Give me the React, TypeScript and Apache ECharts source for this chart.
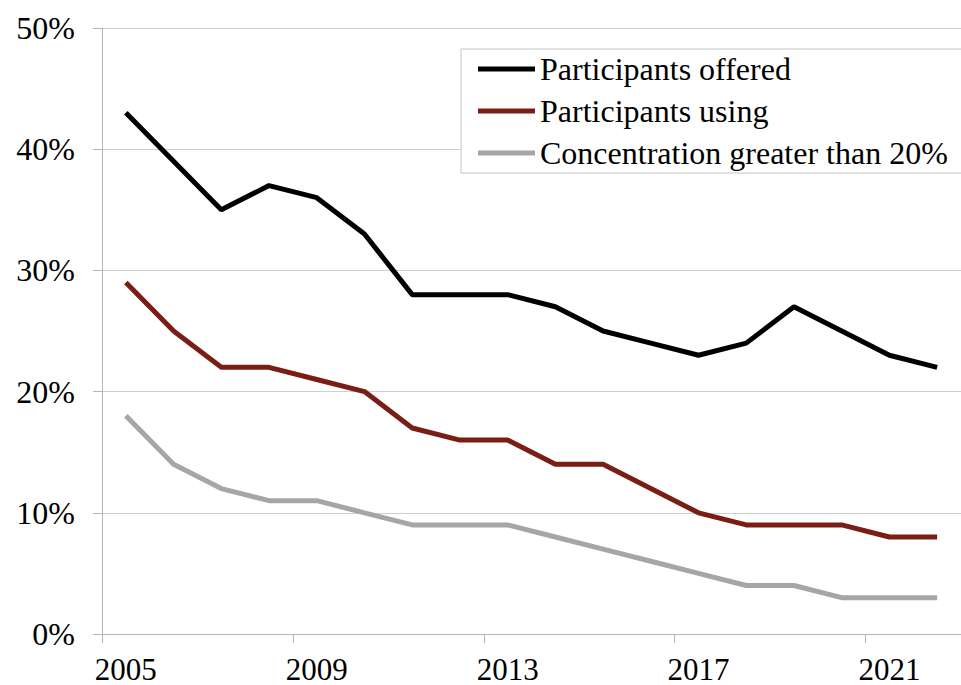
import React, { useEffect, useRef } from "react";
import * as echarts from "echarts";

const years = ["2005","2006","2007","2008","2009","2010","2011","2012","2013","2014","2015","2016","2017","2018","2019","2020","2021","2022"];
const offered = [43, 39, 35, 37, 36, 33, 28, 28, 28, 27, 25, 24, 23, 24, 27, 25, 23, 22];
const using = [29, 25, 22, 22, 21, 20, 17, 16, 16, 14, 14, 12, 10, 9, 9, 9, 8, 8];
const concentration = [18, 14, 12, 11, 11, 10, 9, 9, 9, 8, 7, 6, 5, 4, 4, 3, 3, 3];
const seriesNames = ["Participants offered", "Participants using", "Concentration greater than 20%"];
const seriesColors = ["#000000", "#7a1d14", "#a6a6a6"];

const FONT = "Liberation Serif";

export default function App() {
  const ref = useRef<HTMLDivElement>(null);
  useEffect(() => {
    if (!ref.current) return;
    const chart = echarts.init(ref.current, null, { renderer: "svg" });
    const data = [offered, using, concentration];
    chart.setOption({
      animation: false,
      backgroundColor: "#ffffff",
      textStyle: { fontFamily: FONT },
      grid: { left: 102, top: 28, width: 864, height: 606, containLabel: false },
      legend: {
        left: 461,
        top: 49,
        orient: "vertical",
        backgroundColor: "#ffffff",
        borderColor: "#c4c4c4",
        borderWidth: 1,
        padding: [2, 40, 2, 17],
        itemGap: 6,
        itemWidth: 57,
        itemHeight: 5,
        icon: "rect",
        data: seriesNames,
        textStyle: { fontFamily: FONT, fontSize: 32, color: "#000", lineHeight: 36 },
      },
      xAxis: {
        type: "category",
        data: years,
        boundaryGap: true,
        axisLine: { show: true, lineStyle: { color: "#b4b4b4", width: 1 } },
        axisTick: { show: true, interval: 3, length: 9, lineStyle: { color: "#b4b4b4" } },
        axisLabel: { interval: 3, fontFamily: FONT, fontSize: 31, lineHeight: 30, color: "#000", margin: 20 },
        splitLine: { show: false },
      },
      yAxis: {
        type: "value",
        min: 0,
        max: 50,
        interval: 10,
        axisLine: { show: true, lineStyle: { color: "#b4b4b4", width: 1 } },
        axisTick: { show: true, length: 9, lineStyle: { color: "#b4b4b4" } },
        axisLabel: { formatter: "{value}%", fontFamily: FONT, fontSize: 32, color: "#000", margin: 27 },
        splitLine: { show: true, lineStyle: { color: "#cfcfcf", width: 1 } },
      },
      series: seriesNames.map((name, i) => ({
        name,
        type: "line",
        data: data[i],
        symbol: "none",
        color: seriesColors[i],
        lineStyle: { color: seriesColors[i], width: 5 },
      })),
    });
    return () => chart.dispose();
  }, []);
  return (
    <div
      ref={ref}
      style={{ position: "absolute", left: 0, top: 0, width: 961, height: 685 }}
    />
  );
}
